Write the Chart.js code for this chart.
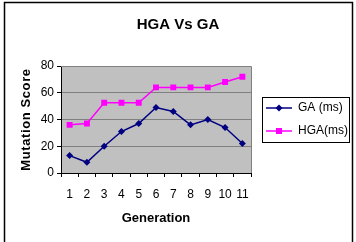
<!DOCTYPE html>
<html>
<head>
<meta charset="utf-8">
<script src="https://cdn.jsdelivr.net/npm/chart.js@4.4.1/dist/chart.umd.min.js"></script>
<style>
html,body{margin:0;padding:0;background:#fff;}
#wrap{width:356px;height:242px;position:relative;}
</style>
</head>
<body>
<div id="wrap"><canvas id="c" width="356" height="242"></canvas></div>
<script>
const categories = ['1','2','3','4','5','6','7','8','9','10','11'];
const gaValues  = [13, 8, 20, 31, 37, 49, 46, 36, 40, 34, 22];
const hgaValues = [36, 37, 52.5, 52.5, 52.5, 64, 64, 64, 64, 68, 72];
const seriesNames = ['GA (ms)', 'HGA(ms)'];
const yTicks = [0, 20, 40, 60, 80];

const FONT = 'Arial, "Liberation Sans", sans-serif';

function legendIcon(color, style) {
  const c = document.createElement('canvas');
  c.width = 30; c.height = 10;
  const g = c.getContext('2d');
  g.strokeStyle = color; g.lineWidth = 1.5;
  g.beginPath(); g.moveTo(4, 5); g.lineTo(30, 5); g.stroke();
  g.fillStyle = color;
  const cx = 17, cy = 5;
  g.beginPath();
  if (style === 'diamond') {
    g.moveTo(cx, cy - 3.5); g.lineTo(cx + 3.5, cy); g.lineTo(cx, cy + 3.5); g.lineTo(cx - 3.5, cy); g.closePath();
  } else {
    g.rect(cx - 3, cy - 3, 6, 6);
  }
  g.fill();
  return c;
}
const icons = [legendIcon('#000080', 'diamond'), legendIcon('#FF00FF', 'square')];

const bgPlugin = {
  id: 'bg',
  afterLayout(chart) {
    const s = chart.scales.y;
    if (s && !s._lsPatched) {
      const orig = s.drawTitle;
      s.drawTitle = function () {
        const ctx = this.ctx;
        ctx.save();
        try { ctx.letterSpacing = '0.6px'; } catch (e) {}
        orig.apply(this, arguments);
        ctx.restore();
      };
      s._lsPatched = true;
    }
  },
  beforeDraw(chart) {
    const {ctx, chartArea: a} = chart;
    ctx.save();
    ctx.fillStyle = '#C0C0C0';
    ctx.fillRect(a.left, a.top, a.right - a.left, a.bottom - a.top);
    ctx.restore();
  },
  afterDraw(chart) {
    const {ctx, chartArea: a} = chart;
    ctx.save();
    ctx.strokeStyle = '#808080';
    ctx.lineWidth = 1;
    ctx.beginPath();
    ctx.moveTo(a.left, Math.round(a.top) + 0.5);
    ctx.lineTo(Math.round(a.right) + 0.5, Math.round(a.top) + 0.5);
    ctx.lineTo(Math.round(a.right) + 0.5, a.bottom);
    ctx.stroke();
    const hb = chart.legend.legendHitBoxes;
    if (hb && hb.length) {
      let l = Infinity, r = -Infinity;
      hb.forEach(h => { l = Math.min(l, h.left); r = Math.max(r, h.left + h.width); });
      const c0 = hb[0].top + hb[0].height / 2;
      const c1 = hb[hb.length - 1].top + hb[hb.length - 1].height / 2;
      const top = Math.round(c0 - 11), bot = Math.round(c1 + 11);
      ctx.strokeStyle = '#000';
      ctx.lineWidth = 1;
      ctx.strokeRect(Math.round(l) + 0.5, top + 0.5, Math.round(r + 1 - l), bot - top);
    }
    ctx.strokeStyle = '#000';
    ctx.lineWidth = 1.5;
    ctx.strokeRect(4.5, 2.5, 348, 250);
    ctx.restore();
  }
};

new Chart(document.getElementById('c'), {
  type: 'line',
  data: {
    labels: categories,
    datasets: [
      {
        label: seriesNames[0], data: gaValues,
        borderColor: '#000080', backgroundColor: '#000080',
        borderWidth: 1.5, pointStyle: 'rectRot', pointRadius: 3.5,
        pointBorderWidth: 0, tension: 0
      },
      {
        label: seriesNames[1], data: hgaValues,
        borderColor: '#FF00FF', backgroundColor: '#FF00FF',
        borderWidth: 1.5, pointStyle: 'rect', pointRadius: 4.2,
        pointBorderWidth: 0, tension: 0
      }
    ]
  },
  options: {
    responsive: false,
    animation: false,
    devicePixelRatio: 1,
    layout: { padding: { left: 0, right: 0, top: 0, bottom: 0 } },
    plugins: {
      title: {
        display: true, text: 'HGA Vs GA', color: '#000',
        font: { family: FONT, size: 15, weight: 'bold', lineHeight: 1.2 },
        padding: { top: 16, bottom: 32 }
      },
      legend: {
        display: true, position: 'right', align: 'center', fullSize: false,
        maxWidth: 105,
        labels: {
          usePointStyle: true, pointStyleWidth: 30, padding: 11,
          color: '#000',
          font: { family: FONT, size: 12 },
          generateLabels(chart) {
            return chart.data.datasets.map((ds, i) => ({
              text: ds.label, pointStyle: icons[i], fillStyle: ds.borderColor,
              strokeStyle: ds.borderColor, lineWidth: 0, hidden: false, datasetIndex: i,
              fontColor: '#000'
            }));
          }
        }
      },
      tooltip: { enabled: false }
    },
    scales: {
      x: {
        type: 'category', offset: true,
        grid: { offset: true, drawOnChartArea: false, drawTicks: true, tickLength: 4, color: '#000' },
        border: { color: '#000', width: 1 },
        ticks: { color: '#000', padding: 10, maxRotation: 0, autoSkip: false, font: { family: FONT, size: 12 } },
        title: { display: true, text: 'Generation', color: '#000', font: { family: FONT, size: 13, weight: 'bold' }, padding: { top: 4, bottom: 16 } },
        afterFit(s) { s.height = 69; }
      },
      y: {
        min: 0, max: 80,
        afterBuildTicks(s) { s.ticks = yTicks.map(v => ({ value: v })); },
        grid: { color: '#808080', drawTicks: true, tickLength: 4, tickColor: '#000' },
        border: { color: '#000', width: 1 },
        ticks: { color: '#000', padding: 3, font: { family: FONT, size: 12 } },
        title: { display: true, text: 'Mutation Score', color: '#000', font: { family: FONT, size: 13, weight: 'bold' }, padding: { top: 19, bottom: 0 } },
        afterFit(s) { s.width = 61; }
      }
    }
  },
  plugins: [bgPlugin]
});
</script>
</body>
</html>
